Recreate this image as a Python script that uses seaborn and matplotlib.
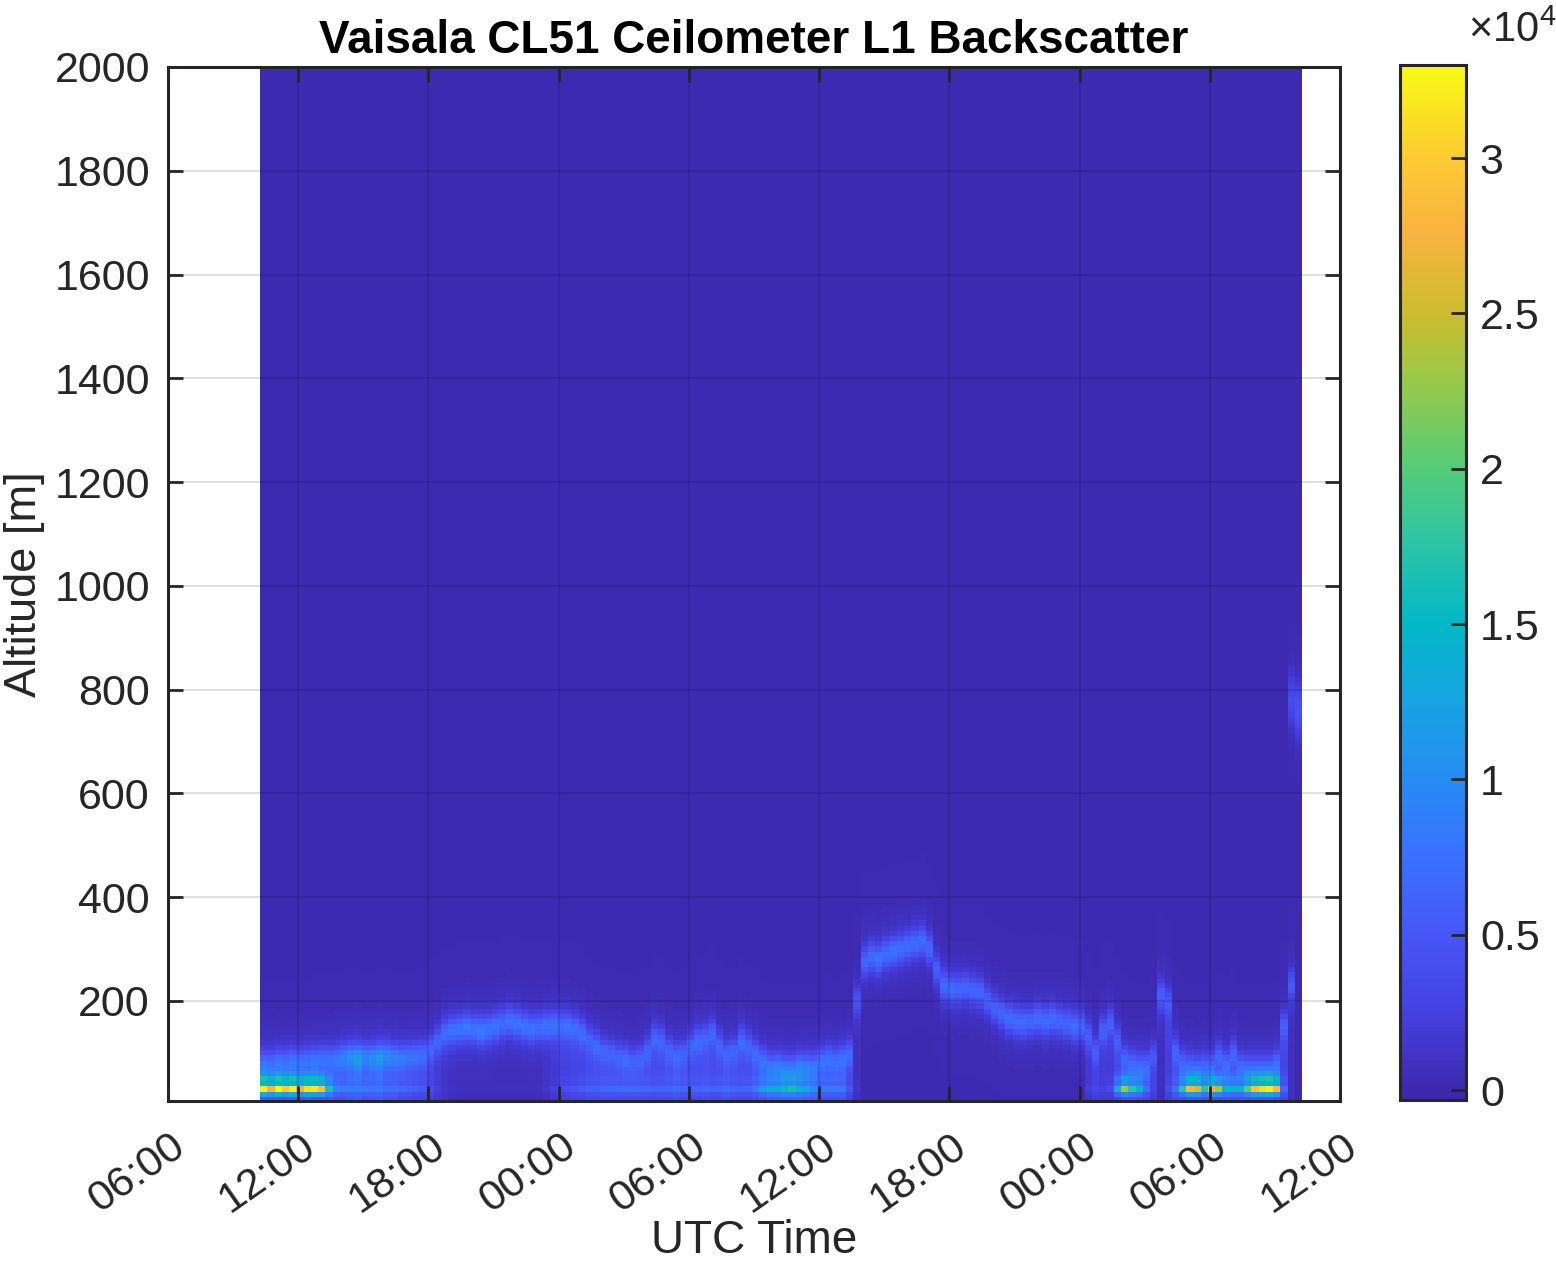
import numpy as np
import pandas as pd
import matplotlib
matplotlib.use("Agg")
import matplotlib.pyplot as plt
import matplotlib.transforms as mtrans
import seaborn as sns
from matplotlib.colors import LinearSegmentedColormap

# ------------------------------------------------------------------ data
start_hour = 10.25          # first profile: 10:15 UTC day 1 (hours since 00:00 day 1)
step_hours = 1.0 / 3.0      # 20-minute profiles
altitudes = np.arange(10, 2001, 10)   # range gates [m]
background = 200

# layer centre height [m], one value per 20-min profile (144 profiles)
layer_height = [
    75, 75, 78, 78, 80, 80, 82, 82, 85,
    85, 85, 88, 90, 88, 90, 88, 90, 92,
    90, 88, 90, 92, 95, 105, 120, 135, 142,
    145, 148, 145, 142, 145, 150, 155, 160, 155,
    150, 145, 148, 150, 152, 150, 150, 145, 135,
    120, 110, 100, 95, 90, 85, 80, 85, 100,
    125, 120, 100, 90, 95, 110, 120, 125, 135,
    110, 95, 100, 120, 110, 95, 80, 70, 70,
    65, 65, 70, 70, 70, 80, 85, 80, 85,
    95, 200, 275, 285, 280, 290, 295, 300, 305,
    310, 315, 300, 260, 230, 222, 222, 225, 220,
    215, 200, 185, 175, 165, 160, 158, 160, 165,
    160, 165, 160, 155, 150, 150, 130, 100, 140,
    155, 120, 85, 75, 70, 70, 90, 210, 195,
    100, 75, 70, 65, 70, 70, 90, 75, 95,
    70, 65, 65, 65, 65, 75, 150, 230, 100,
]
# layer peak backscatter
layer_peak = [
    6500, 6000, 6500, 6000, 6500, 6000, 6000, 6500, 6000,
    6000, 6500, 7000, 8000, 9500, 7000, 8000, 9000, 7500,
    7000, 6500, 6000, 6000, 5500, 5000, 5000, 5500, 6000,
    6000, 6500, 6000, 6500, 6000, 6000, 5500, 6000, 6000,
    6000, 6000, 5500, 6000, 6000, 5500, 6000, 5500, 5500,
    5000, 5500, 5000, 5000, 5000, 5500, 5000, 5000, 5000,
    5000, 5000, 5000, 5500, 5000, 5000, 5500, 5000, 5000,
    5000, 5000, 5000, 5500, 5000, 5500, 6000, 6500, 7000,
    7500, 7000, 7500, 7000, 6500, 6000, 6000, 6000, 6000,
    5500, 3500, 5000, 5500, 6000, 5500, 6000, 5500, 5500,
    5500, 5500, 5000, 4500, 5500, 5500, 5000, 5000, 5000,
    5000, 4500, 4500, 5000, 5500, 5500, 5500, 5000, 5500,
    5500, 5500, 5000, 5000, 5500, 5000, 4500, 4500, 4500,
    4500, 4500, 5000, 5500, 5500, 5500, 4000, 4500, 4000,
    5000, 5500, 5500, 6000, 5500, 5500, 5000, 5500, 5000,
    5500, 6000, 6000, 6000, 6000, 6000, 4500, 4000, 0,
]
# near-surface (~30 m) backscatter
surface_peak = [
    27000, 23000, 28000, 25000, 27000, 22000, 26000, 27000, 24000,
    12000, 5000, 4000, 4000, 3000, 4000, 3000, 3000, 3000,
    3000, 3000, 2500, 2500, 2000, 1500, 800, 500, 300,
    300, 300, 300, 300, 300, 300, 300, 300, 300,
    300, 300, 300, 500, 1000, 1500, 2000, 2000, 2500,
    2500, 2500, 3000, 3000, 3000, 3000, 3000, 3000, 3000,
    3000, 3000, 3000, 3000, 3000, 3000, 3000, 3000, 3000,
    3000, 3000, 3000, 3000, 3000, 4000, 7000, 8000, 7000,
    9000, 10000, 8000, 7000, 5000, 4000, 4000, 4000, 4000,
    2000, 500, 0, 0, 0, 0, 0, 0, 0,
    0, 0, 0, 0, 0, 0, 0, 0, 0,
    0, 0, 0, 0, 0, 0, 0, 0, 0,
    0, 0, 0, 0, 0, 0, 1000, 1500, 1000,
    2000, 11000, 19000, 13000, 11000, 4000, 1000, 0, 1500,
    4000, 13000, 23000, 21000, 13000, 22000, 19000, 11000, 11000,
    9000, 15000, 24000, 26000, 27000, 24000, 4000, 0, 0,
]
# backscatter filling the gap between ground and the layer
below_fill = [
    4500, 4000, 4500, 4000, 4500, 4000, 4500, 4000, 4000,
    4000, 3500, 3500, 4000, 4500, 3500, 4000, 4500, 3500,
    3500, 3000, 3000, 2500, 2500, 2000, 1200, 800, 500,
    300, 300, 300, 300, 300, 300, 300, 300, 300,
    300, 300, 300, 600, 1200, 2000, 2000, 2500, 2500,
    3000, 3000, 3000, 3000, 3000, 3000, 3000, 3000, 3000,
    3000, 3000, 3000, 3500, 3000, 3000, 3000, 3500, 3000,
    3000, 3500, 3000, 3000, 3000, 3500, 4000, 4500, 5000,
    5000, 5000, 5000, 4500, 4000, 3500, 3500, 3500, 3500,
    2000, 500, 0, 0, 0, 0, 0, 0, 0,
    0, 0, 0, 0, 0, 0, 0, 0, 0,
    0, 0, 0, 0, 0, 0, 0, 0, 0,
    0, 0, 0, 0, 0, 0, 1000, 1500, 1500,
    1500, 2500, 3500, 3500, 3000, 2500, 1500, 500, 2000,
    3000, 3500, 4000, 3500, 3500, 3500, 3500, 3500, 3500,
    3500, 3500, 4000, 4000, 4000, 3500, 2500, 500, 0,
]
# elevated feature at the end of the record
aloft_cols = [142, 143]
aloft_height = [780, 760]
aloft_peak = [3500, 4500]

tick_hours = [6, 12, 18, 24, 30, 36, 42, 48, 54, 60]
tick_labels = ["06:00", "12:00", "18:00", "00:00", "06:00",
               "12:00", "18:00", "00:00", "06:00", "12:00"]
alt_ticks = [200, 400, 600, 800, 1000, 1200, 1400, 1600, 1800, 2000]
cbar_ticks = [0, 5000, 10000, 15000, 20000, 25000, 30000]
cbar_labels = ["0", "0.5", "1", "1.5", "2", "2.5", "3"]
vmin, vmax = -320, 33000

# ------------------------------------------------------------------ field
Z = altitudes[:, None].astype(float)
H = np.array(layer_height, float)[None, :]
P = np.array(layer_peak, float)[None, :]
S = np.array(surface_peak, float)[None, :]
B = np.array(below_fill, float)[None, :]
field = (background
         + P * np.exp(-((Z - H) / 25.0) ** 2)
         + 0.25 * P * np.exp(-((Z - H) / 60.0) ** 2)
         + S * np.exp(-((Z - 28.0) / 7.0) ** 2)
         + 0.4 * S * np.exp(-((Z - 47.0) / 13.0) ** 2)
         + B / (1.0 + np.exp((Z - (H - 25.0)) / 8.0)))
for c, h, p in zip(aloft_cols, aloft_height, aloft_peak):
    field[:, c] += p * np.exp(-((altitudes - h) / 50.0) ** 2)

col_hours = start_hour + step_hours * np.arange(len(layer_height))
df = pd.DataFrame(field, index=altitudes, columns=np.round(col_hours, 3))

# parula-like colormap
parula = LinearSegmentedColormap.from_list("parula", [
    (0.00, (0.24, 0.15, 0.66)), (0.08, (0.27, 0.25, 0.88)),
    (0.16, (0.28, 0.34, 0.97)), (0.24, (0.22, 0.45, 1.00)),
    (0.31, (0.15, 0.55, 0.95)), (0.39, (0.08, 0.65, 0.88)),
    (0.46, (0.01, 0.72, 0.78)), (0.54, (0.18, 0.77, 0.65)),
    (0.61, (0.33, 0.80, 0.47)), (0.69, (0.58, 0.79, 0.30)),
    (0.76, (0.80, 0.74, 0.18)), (0.84, (0.98, 0.70, 0.25)),
    (0.91, (0.99, 0.79, 0.20)), (1.00, (0.97, 0.98, 0.08))], N=256)

# ------------------------------------------------------------------ plot
txt = "#262626"
plt.rcParams["font.family"] = ["Liberation Sans", "DejaVu Sans"]
plt.rcParams["mathtext.fontset"] = "custom"
plt.rcParams["mathtext.rm"] = "Liberation Sans"
plt.rcParams["text.color"] = txt

W, Hpx = 1556, 1272
fig = plt.figure(figsize=(W / 100, Hpx / 100), dpi=100)
ax = fig.add_axes([168 / W, 1 - 1101 / Hpx, (1340 - 168) / W, (1101 - 67) / Hpx])
cax = fig.add_axes([1400 / W, 1 - 1100 / Hpx, 66 / W, (1100 - 65) / Hpx])

sns.heatmap(df, ax=ax, cbar_ax=cax, cmap=parula, vmin=vmin, vmax=vmax,
            xticklabels=False, yticklabels=False, rasterized=True)

def xpos(hour):
    return (hour - start_hour) / step_hours

def ypos(alt):
    return (alt - 5.0) / 10.0

ax.set_xlim(xpos(6), xpos(60))
ax.set_ylim(ypos(7), ypos(2000))
ax.set_facecolor("white")

ax.set_xticks([xpos(h) for h in tick_hours])
ax.set_xticklabels(tick_labels, rotation=35, ha="right", va="center",
                   rotation_mode="anchor")
ax.set_yticks([ypos(a) for a in alt_ticks])
ax.set_yticklabels([str(a) for a in alt_ticks], rotation=0)

for s in ax.spines.values():
    s.set_visible(True)
    s.set_linewidth(2.2)
    s.set_color(txt)
ax.tick_params(axis="both", direction="in", length=11, width=2, color=txt,
               labelsize=31, labelcolor=txt, top=True, right=True)
ax.tick_params(axis="x", pad=14)
ax.tick_params(axis="y", pad=13)
offset = mtrans.ScaledTranslation(0.13, -0.22, fig.dpi_scale_trans)
for lab in ax.get_xticklabels():
    lab.set_transform(lab.get_transform() + offset)
ax.grid(True, color="black", alpha=0.12, linewidth=1.5)
ax.set_axisbelow(False)

ax.set_title("Vaisala CL51 Ceilometer L1 Backscatter", fontsize=33,
             fontweight="bold", color="black", pad=10)
ax.set_xlabel("UTC Time", fontsize=33, color=txt, va="top")
ax.xaxis.set_label_coords(0.5, (1101 - 1219) / 1034)
ax.set_ylabel("Altitude [m]", fontsize=32.5, color=txt, va="center")
ax.yaxis.set_label_coords((25 - 168) / 1172, 0.5)

cb = ax.collections[0].colorbar
cb.outline.set_linewidth(2.2)
cb.outline.set_edgecolor(txt)
cb.set_ticks(cbar_ticks)
cb.set_ticklabels(cbar_labels)
cax.tick_params(direction="in", length=11, width=2, color=txt,
                labelsize=31, labelcolor=txt, pad=10)
fig.text(1468 / W, 1 - 42 / Hpx, r"$\times10^{4}$", fontsize=30, color=txt,
         ha="left", va="baseline")

fig.savefig("out.png", dpi=100, facecolor="white")
